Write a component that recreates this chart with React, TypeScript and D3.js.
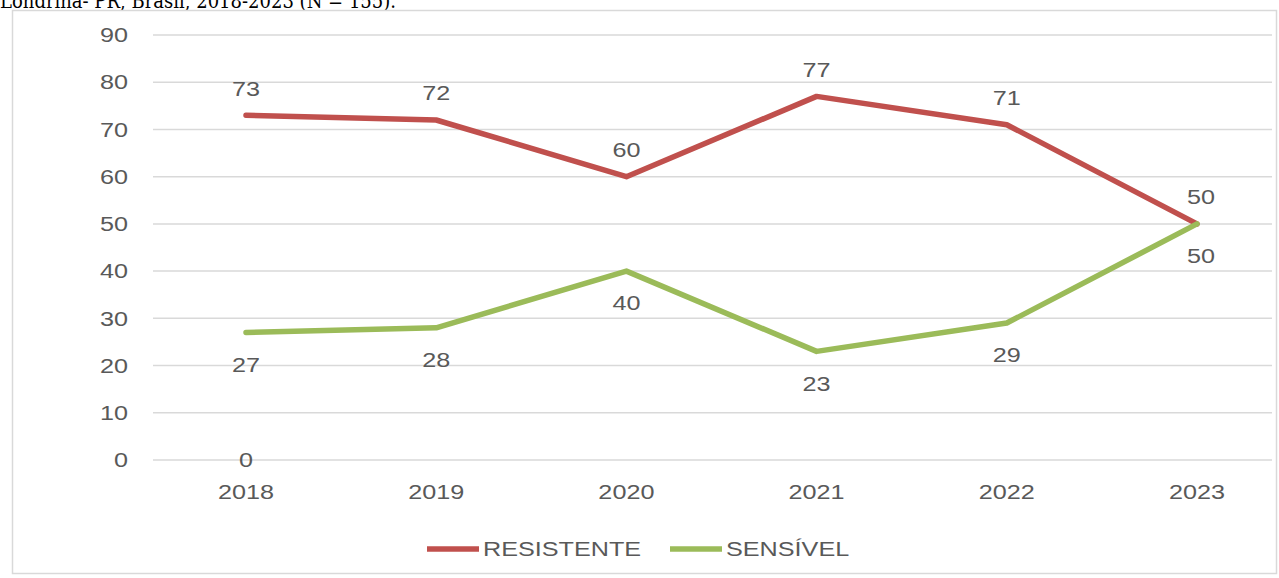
import * as d3 from 'd3';
import React, { useEffect, useRef } from 'react';

const years = ['2018', '2019', '2020', '2021', '2022', '2023'];
const resistente = [73, 72, 60, 77, 71, 50];
const sensivel = [27, 28, 40, 23, 29, 50];
const hiddenZero = [0];
const yTicks = [0, 10, 20, 30, 40, 50, 60, 70, 80, 90];
const caption = 'Londrina- PR, Brasil, 2018-2023 (N = 155).';

const W = 1279;
const H = 578;
const FONT = '"Liberation Sans", Arial, sans-serif';
const TEXT = '#595959';

export default function App() {
  const svgRef = useRef<SVGSVGElement>(null);

  useEffect(() => {
    if (!svgRef.current) return;
    const svg = d3.select(svgRef.current);
    svg.selectAll('*').remove();

    // caption, cut off at the top as in the source crop
    svg.append('text')
      .attr('x', 0)
      .attr('y', 8)
      .attr('font-family', '"DejaVu Serif", "Liberation Serif", serif')
      .attr('font-size', 20)
      .attr('textLength', 396)
      .attr('lengthAdjust', 'spacingAndGlyphs')
      .attr('fill', '#000')
      .text(caption);

    // chart frame
    svg.append('rect')
      .attr('x', 12.5)
      .attr('y', 10.5)
      .attr('width', 1264)
      .attr('height', 563)
      .attr('fill', '#fff')
      .attr('stroke', '#d9d9d9')
      .attr('stroke-width', 1.5);

    const x = d3.scalePoint<string>().domain(years).range([246, 1197]);
    const y = d3.scaleLinear().domain([0, 90]).range([460, 35]);

    // horizontal text stretch to match the source rendering
    const label = (g: any, tx: number, ty: number, s: string, anchor = 'middle') =>
      g.append('text')
        .attr('transform', `translate(${tx},${ty}) scale(1.2,1)`)
        .attr('text-anchor', anchor)
        .attr('dominant-baseline', 'central')
        .attr('font-family', FONT)
        .attr('font-size', 21)
        .attr('fill', TEXT)
        .text(s);

    // gridlines + y labels
    const grid = svg.append('g');
    yTicks.forEach(t => {
      grid.append('line')
        .attr('x1', 153)
        .attr('x2', 1272)
        .attr('y1', y(t))
        .attr('y2', y(t))
        .attr('stroke', '#d9d9d9')
        .attr('stroke-width', 1.5);
      label(grid, 128, y(t), String(t), 'end');
    });

    // x labels
    const xg = svg.append('g');
    years.forEach(yr => label(xg, x(yr)!, 492, yr));

    const line = d3.line<number>()
      .x((_, i) => x(years[i])!)
      .y(d => y(d));

    const series = [
      { name: 'RESISTENTE', values: resistente, color: '#C0504D', dy: -27 },
      { name: 'SENSÍVEL', values: sensivel, color: '#9BBB59', dy: 32 },
    ];

    series.forEach(s => {
      svg.append('path')
        .datum(s.values)
        .attr('d', line)
        .attr('fill', 'none')
        .attr('stroke', s.color)
        .attr('stroke-width', 5.5)
        .attr('stroke-linejoin', 'round')
        .attr('stroke-linecap', 'round');
    });

    const labels = svg.append('g');
    series.forEach(s => {
      s.values.forEach((v, i) => {
        const dx = i === years.length - 1 ? 4 : 0;
        label(labels, x(years[i])! + dx, y(v) + s.dy, String(v));
      });
    });
    hiddenZero.forEach((v, i) => label(labels, x(years[i])!, y(v), String(v)));

    // legend
    const leg = svg.append('g');
    const items = [
      { ...series[0], x0: 427 },
      { ...series[1], x0: 670 },
    ];
    items.forEach(it => {
      leg.append('line')
        .attr('x1', it.x0)
        .attr('x2', it.x0 + 52)
        .attr('y1', 549)
        .attr('y2', 549)
        .attr('stroke', it.color)
        .attr('stroke-width', 5.5);
      label(leg, it.x0 + 56, 549, it.name, 'start');
    });
  }, []);

  return (
    <svg
      ref={svgRef}
      width={W}
      height={H}
      style={{ position: 'absolute', left: 0, top: 0, background: '#fff' }}
    />
  );
}
